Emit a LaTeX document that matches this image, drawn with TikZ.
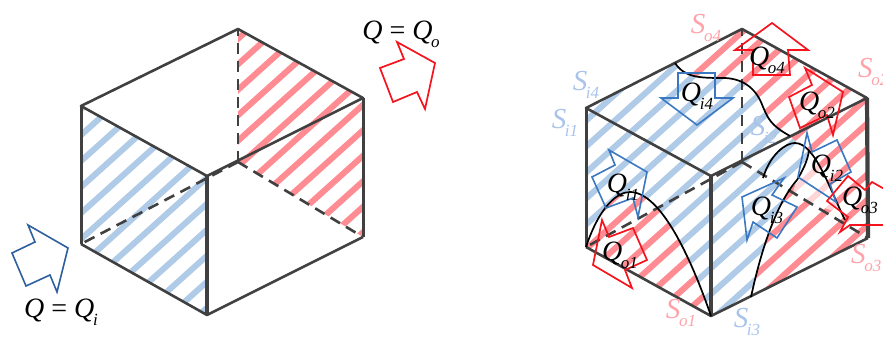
\documentclass[tikz,border=0pt]{standalone}
\usepackage{fontspec}
\setmainfont{Liberation Serif}
\definecolor{sblue}{HTML}{B0CBE8}
\definecolor{sred}{HTML}{FF8C92}
\definecolor{spale}{HTML}{FFD6D8}
\definecolor{edge}{HTML}{404040}
\definecolor{lblue}{HTML}{A9C3EA}
\definecolor{lred}{HTML}{FFA3AB}
\definecolor{ablue}{HTML}{2E5F9E}
\definecolor{ablue2}{HTML}{3A78C2}
\definecolor{ared}{HTML}{F5141E}
\newcommand{\symb}[2]{{\itshape #1}\kern-0.05em\raisebox{-0.28em}{\fontsize{17}{17}\selectfont\itshape #2}}
\newcommand{\hatch}[4]{% colour, start, step, end
  \foreach \c in {#2,#3,...,#4} {\draw[#1,line width=6pt] (0,\c) -- (883,{\c-794.7});}}
\tikzset{
  cubeedge/.style={draw=edge,line width=2.6pt,line join=round},
  heavy/.style={draw=edge,line width=4.2pt},
  mid/.style={draw=edge,line width=3pt},
  hidden/.style={draw=edge,line width=2.6pt,dash pattern=on 11pt off 7pt},
  flowin/.style={draw=ablue2,line width=1.6pt,line join=miter},
  flowout/.style={draw=ared,line width=1.7pt,line join=miter},
  curveline/.style={draw=black,line width=1.7pt},
  qlabel/.style={font=\fontsize{28}{28}\selectfont,inner sep=0pt},
  slabelb/.style={text=lblue,font=\fontsize{29}{29}\selectfont,inner sep=0pt},
  slabelr/.style={text=lred,font=\fontsize{29}{29}\selectfont,inner sep=0pt},
}
\begin{document}
\begin{tikzpicture}[x=1pt,y=-1pt]
\clip (0,0) rectangle (883,339);
% ---------- left cube ----------
\begin{scope}
  \clip (81,106) -- (207,176) -- (207,315) -- (81,244) -- cycle;
  \hatch{sblue}{104}{130}{650}
\end{scope}
\begin{scope}
  \clip (238,29) -- (363,98) -- (363,237) -- (238,162) -- cycle;
  \hatch{sred}{100}{125.5}{630}
\end{scope}
\coordinate (lT) at (238,29); \coordinate (lR) at (363,98); \coordinate (lRB) at (363,237);
\coordinate (lB) at (207,315); \coordinate (lLB) at (81,244); \coordinate (lL) at (81,106);
\coordinate (lF) at (207,176); \coordinate (lK) at (238,162);
\draw[hidden] (lK) -- (lT);
\draw[hidden] (lK) -- (lLB);
\draw[hidden] (lK) -- (lRB);
\draw[cubeedge] (lL) -- (lT) -- (lR) -- (lF) -- cycle;
\draw[cubeedge] (lRB) -- (lB) -- (lLB);
\draw[mid] (lL) -- (lLB);
\draw[mid] (lR) -- (lRB);
\draw[heavy] (lF) -- (lB);
\draw[draw=ablue,line width=1.6pt] (28,225) -- (68,248) -- (57,292) -- (50,275) -- (26,286) -- (12,253) -- (35,242) -- cycle;
\draw[flowout] (397,42) -- (435,63) -- (425,109) -- (417,92) -- (393,102) -- (380,68) -- (404,59) -- cycle;
\node[qlabel] (qi) at (61,312) {{\itshape Q} = \symb{Q}{i}};
\node[qlabel] (qo) at (401,34) {{\itshape Q} = \symb{Q}{o}};
% ---------- right cube ----------
\begin{scope}
  \clip (586,108) -- (742,29) -- (867,98) -- (868,238) -- (711,316) -- (586,247) -- cycle;
  \hatch{sblue}{622}{648}{1100}
\end{scope}
% red, upper right
\begin{scope}
  \path[clip] (675,63) -- (742,29) -- (867,98) -- (868,238) -- (751,297)
    .. controls (760,255) and (775,205) .. (797,180)
    .. controls (803,170) and (808,160) .. (809,150) -- (797,143) -- (790,136)
    .. controls (770,125) and (768,118) .. (763,107)
    .. controls (757,90) and (745,79) .. (725,78)
    .. controls (700,78) and (685,78) .. (675,63) -- cycle;
  \fill[white] (600,0) rectangle (883,339);
  \hatch{sred}{700}{725.5}{1100}
\end{scope}
% pale patch inside the arc
\begin{scope}
  \clip (809,150) .. controls (820,170) and (832,190) .. (842,214) -- (792,196) -- (797,180) .. controls (803,170) and (808,160) .. (809,150) -- cycle;
  \fill[white] (780,140) rectangle (850,220);
  \hatch{spale}{700}{725.5}{1100}
\end{scope}
% red, parabola on the left face
\begin{scope}
  \path[clip] (586,247) .. controls (600,205) and (618,192) .. (630,192)
    .. controls (660,192) and (690,255) .. (711,316) -- cycle;
  \fill[white] (580,185) rectangle (715,320);
  \hatch{sred}{700}{725.5}{1100}
\end{scope}
\coordinate (rT) at (742,29); \coordinate (rR) at (867,98); \coordinate (rRB) at (868,238);
\coordinate (rB) at (711,316); \coordinate (rLB) at (586,247); \coordinate (rL) at (586,108);
\coordinate (rF) at (711,176); \coordinate (rK) at (742,162);
\draw[hidden] (rK) -- (rT);
\draw[hidden] (rK) -- (rLB);
\draw[hidden] (rK) -- (rRB);
\draw[cubeedge] (rL) -- (rT) -- (rR) -- (rF) -- cycle;
\draw[cubeedge] (rRB) -- (rB) -- (rLB);
\draw[mid] (rL) -- (rLB);
\draw[heavy] (rR) -- (rRB);
\draw[heavy] (rF) -- (rB);
% boundary curves
\draw[curveline] (675,63) .. controls (685,78) and (700,78) .. (725,78)
    .. controls (745,79) and (757,90) .. (763,107)
    .. controls (768,118) and (770,125) .. (790,136);
\draw[curveline] (rLB) .. controls (600,205) and (618,192) .. (630,192)
    .. controls (660,192) and (690,255) .. (rB);
\draw[curveline] (751,297) .. controls (760,255) and (775,205) .. (797,180)
    .. controls (803,170) and (808,160) .. (809,150);
\draw[curveline] (763,178) .. controls (770,155) and (785,143) .. (795,143)
    .. controls (815,143) and (830,190) .. (845,220);
% flow arrows
\draw[flowout] (772,23) -- (808,50) -- (788,50) -- (790,75) -- (753,75) -- (753,50) -- (735,50) -- cycle;
\draw[flowin] (678,73) -- (715,73) -- (715,98) -- (733,98) -- (697,125) -- (661,98) -- (678,98) -- cycle;
\draw[flowout] (805,68) -- (843,92) -- (833,135) -- (827,115) -- (800,128) -- (789,97) -- (812,85) -- cycle;
\draw[flowin] (609,150) -- (647,172) -- (638,217) -- (633,198) -- (606,208) -- (592,177) -- (615,165) -- cycle;
\draw[flowout] (602,220) -- (593,265) -- (632,288) -- (625,270) -- (647,260) -- (633,228) -- (609,237) -- cycle;
\draw[flowin] (784,178) -- (742,197) -- (747,240) -- (753,222) -- (777,238) -- (797,207) -- (772,195) -- cycle;
\draw[flowin] (807,133) -- (798,177) -- (836,202) -- (830,184) -- (851,172) -- (837,140) -- (812,152) -- cycle;
\draw[flowout] (827,201) -- (848,176) -- (865,190) -- (872,182) -- (895,195) -- (885,225) -- (850,225) -- (840,232) -- (848,217) -- cycle;
% labels
\node[slabelr] (so4) at (706,28) {\symb{S}{o4}};
\node[slabelr,anchor=west] (so2) at (858,72) {\symb{S}{o2}};
\node[slabelb] (si4) at (586,85) {\symb{S}{i4}};
\node[slabelb] (si1) at (565,123) {\symb{S}{i1}};
\node[slabelb] (si2) at (764,130) {\symb{S}{i2}};
\node[slabelr] (so1) at (681,313) {\symb{S}{o1}};
\node[slabelb] (si3) at (747,322) {\symb{S}{i3}};
\node[slabelr,anchor=west] (so3) at (851,258) {\symb{S}{o3}};
\node[qlabel] (qo4) at (767,60) {\symb{Q}{o4}};
\node[qlabel] (qi4) at (697,96) {\symb{Q}{i4}};
\node[qlabel] (qo2) at (817,105) {\symb{Q}{o2}};
\node[qlabel] (qi1) at (623,187) {\symb{Q}{i1}};
\node[qlabel] (qo1) at (620,255) {\symb{Q}{o1}};
\node[qlabel] (qi3) at (767,210) {\symb{Q}{i3}};
\node[qlabel] (qi2) at (827,168) {\symb{Q}{i2}};
\node[qlabel] (qo3) at (860,200) {\symb{Q}{o3}};
\end{tikzpicture}
\end{document}
